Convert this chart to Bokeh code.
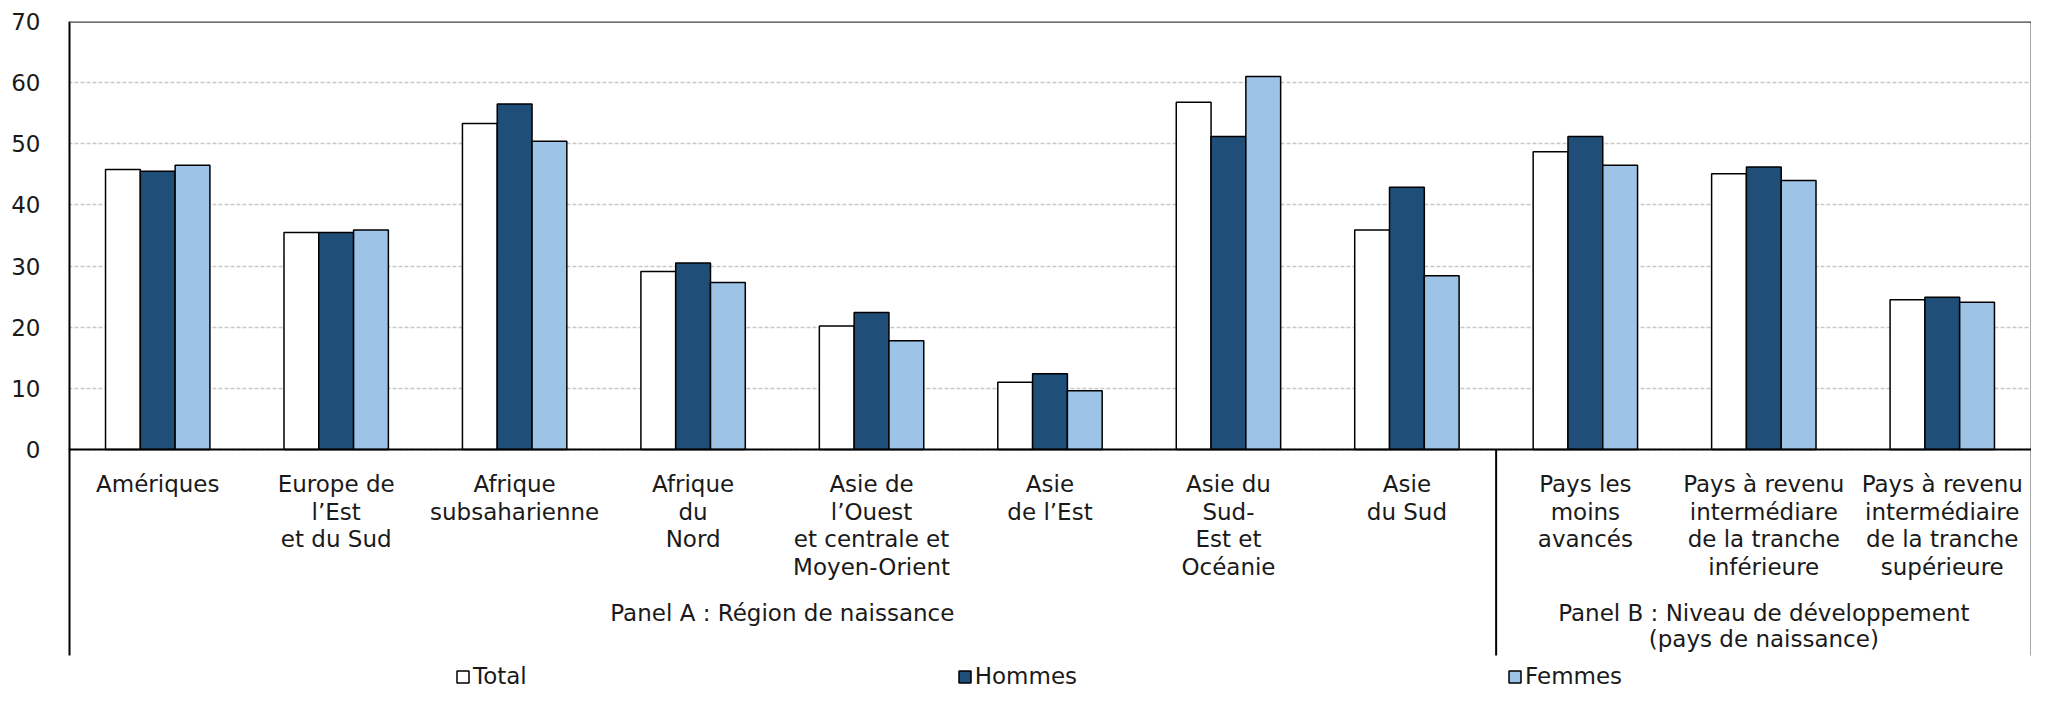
from bokeh.plotting import figure
from bokeh.models import Range1d, Span, Legend, LegendItem, ColumnDataSource
from bokeh.core.properties import value
from bokeh.embed import file_html
from bokeh.resources import INLINE

# ---------------- data ----------------
categories = [
    "Amériques",
    "Europe de\nl’Est\net du Sud",
    "Afrique\nsubsaharienne",
    "Afrique\ndu\nNord",
    "Asie de\nl’Ouest\net centrale et\nMoyen-Orient",
    "Asie\nde l’Est",
    "Asie du\nSud-\nEst et\nOcéanie",
    "Asie\ndu Sud",
    "Pays les\nmoins\navancés",
    "Pays à revenu\nintermédiare\nde la tranche\ninférieure",
    "Pays à revenu\nintermédiaire\nde la tranche\nsupérieure",
]
total = [45.8, 35.5, 53.3, 29.1, 20.2, 11.0, 56.8, 35.9, 48.7, 45.1, 24.5]
hommes = [45.5, 35.5, 56.5, 30.5, 22.4, 12.4, 51.2, 42.9, 51.2, 46.2, 24.9]
femmes = [46.5, 35.9, 50.4, 27.3, 17.8, 9.6, 61.0, 28.4, 46.5, 44.0, 24.1]
series_names = ["Total", "Hommes", "Femmes"]
panel_labels = ["Panel A : Région de naissance",
                "Panel B : Niveau de développement\n(pays de naissance)"]
panel_starts = [0, 8]
panel_ends = [8, 11]
y_ticks = [0, 10, 20, 30, 40, 50, 60, 70]

# ---------------- style / layout ----------------
colors = ["#FFFFFF", "#1F4E79", "#9DC3E6"]
FONT = value("DejaVu Sans")
FS = "23px"
W, H = 2031, 689
MB_TOP, MB_BOTTOM, MB_LEFT, MB_RIGHT = 21, 0, 68, 0
FRAME_H = H - MB_TOP - MB_BOTTOM
YMAX = 70
PX = 428.0 / YMAX                      # pixels per data unit
YMIN = -(FRAME_H - 428.0) / PX
Y_BOX_BOTTOM = -(655.0 - 449.0) / PX   # where the box lines stop
BW = 0.195
LINE_H = 27.7

series_vals = [total, hommes, femmes]
n = len(categories)

p = figure(width=W, height=H, x_range=Range1d(0, n), y_range=Range1d(YMIN, YMAX),
           output_backend="svg", toolbar_location=None, x_axis_location=None,
           min_border_left=MB_LEFT, min_border_right=MB_RIGHT,
           min_border_top=MB_TOP, min_border_bottom=MB_BOTTOM,
           outline_line_color=None, background_fill_color="white",
           border_fill_color="white")

# y axis (line drawn separately so it stops at the box bottom)
p.yaxis.ticker = y_ticks
p.yaxis.major_tick_line_color = None
p.yaxis.minor_tick_line_color = None
p.yaxis.axis_line_color = None
p.yaxis.major_label_standoff = 22
p.yaxis.major_label_text_font = "DejaVu Sans"
p.yaxis.major_label_text_font_size = FS
p.yaxis.major_label_text_color = "#1a1a1a"

# grid
p.xgrid.visible = False
p.ygrid.ticker = y_ticks
p.ygrid.grid_line_color = "#c8c8c8"
p.ygrid.grid_line_dash = "4 2"
p.ygrid.grid_line_width = 1.5

# bars
renderers = []
for k, (name, vals) in enumerate(zip(series_names, series_vals)):
    src = ColumnDataSource(dict(x=[i + 0.5 + (k - 1) * BW for i in range(n)], top=vals))
    r = p.vbar(x="x", top="top", bottom=0, width=BW, source=src,
               fill_color=colors[k], line_color="black", line_width=1.5)
    renderers.append(r)

# box lines
p.add_layout(Span(location=0, dimension="width", line_color="black", line_width=2))
p.add_layout(Span(location=YMAX, dimension="width", line_color="#404040", line_width=2.5))
p.segment(x0=[0], y0=[Y_BOX_BOTTOM], x1=[0], y1=[YMAX], line_color="black", line_width=4)
p.segment(x0=[n], y0=[Y_BOX_BOTTOM], x1=[n], y1=[YMAX], line_color="#a6a6a6", line_width=3)
p.segment(x0=[panel_ends[0]], y0=[0], x1=[panel_ends[0]], y1=[Y_BOX_BOTTOM],
          line_color="black", line_width=2)

# category labels
lx, ly, lt = [], [], []
for i, c in enumerate(categories):
    for j, line in enumerate(c.split("\n")):
        lx.append(i + 0.5)
        ly.append(-(34.3 + j * LINE_H) / PX)
        lt.append(line)
p.text(x=lx, y=ly, text=lt, text_align="center", text_baseline="middle",
       text_font=FONT, text_font_size=FS, text_color="#1a1a1a")

# panel labels
px_, py_, pt_ = [], [], []
for s, e, lab in zip(panel_starts, panel_ends, panel_labels):
    for j, line in enumerate(lab.split("\n")):
        px_.append((s + e) / 2)
        py_.append(-(163.0 + j * 26.5) / PX)
        pt_.append(line)
p.text(x=px_, y=py_, text=pt_, text_align="center", text_baseline="middle",
       text_font=FONT, text_font_size=FS, text_color="#1a1a1a")

# legend (inside the frame, at its bottom)
legend = Legend(items=[LegendItem(label=nm, renderers=[r]) for nm, r in zip(series_names, renderers)],
                orientation="horizontal", location=(387, 0), spacing=430,
                glyph_width=15, glyph_height=15, label_standoff=3,
                padding=0, margin=0, border_line_color=None, background_fill_alpha=0,
                label_text_font="DejaVu Sans", label_text_font_size=FS,
                label_text_color="#1a1a1a")
p.add_layout(legend)

open("out.html", "w").write(file_html(p, INLINE))
